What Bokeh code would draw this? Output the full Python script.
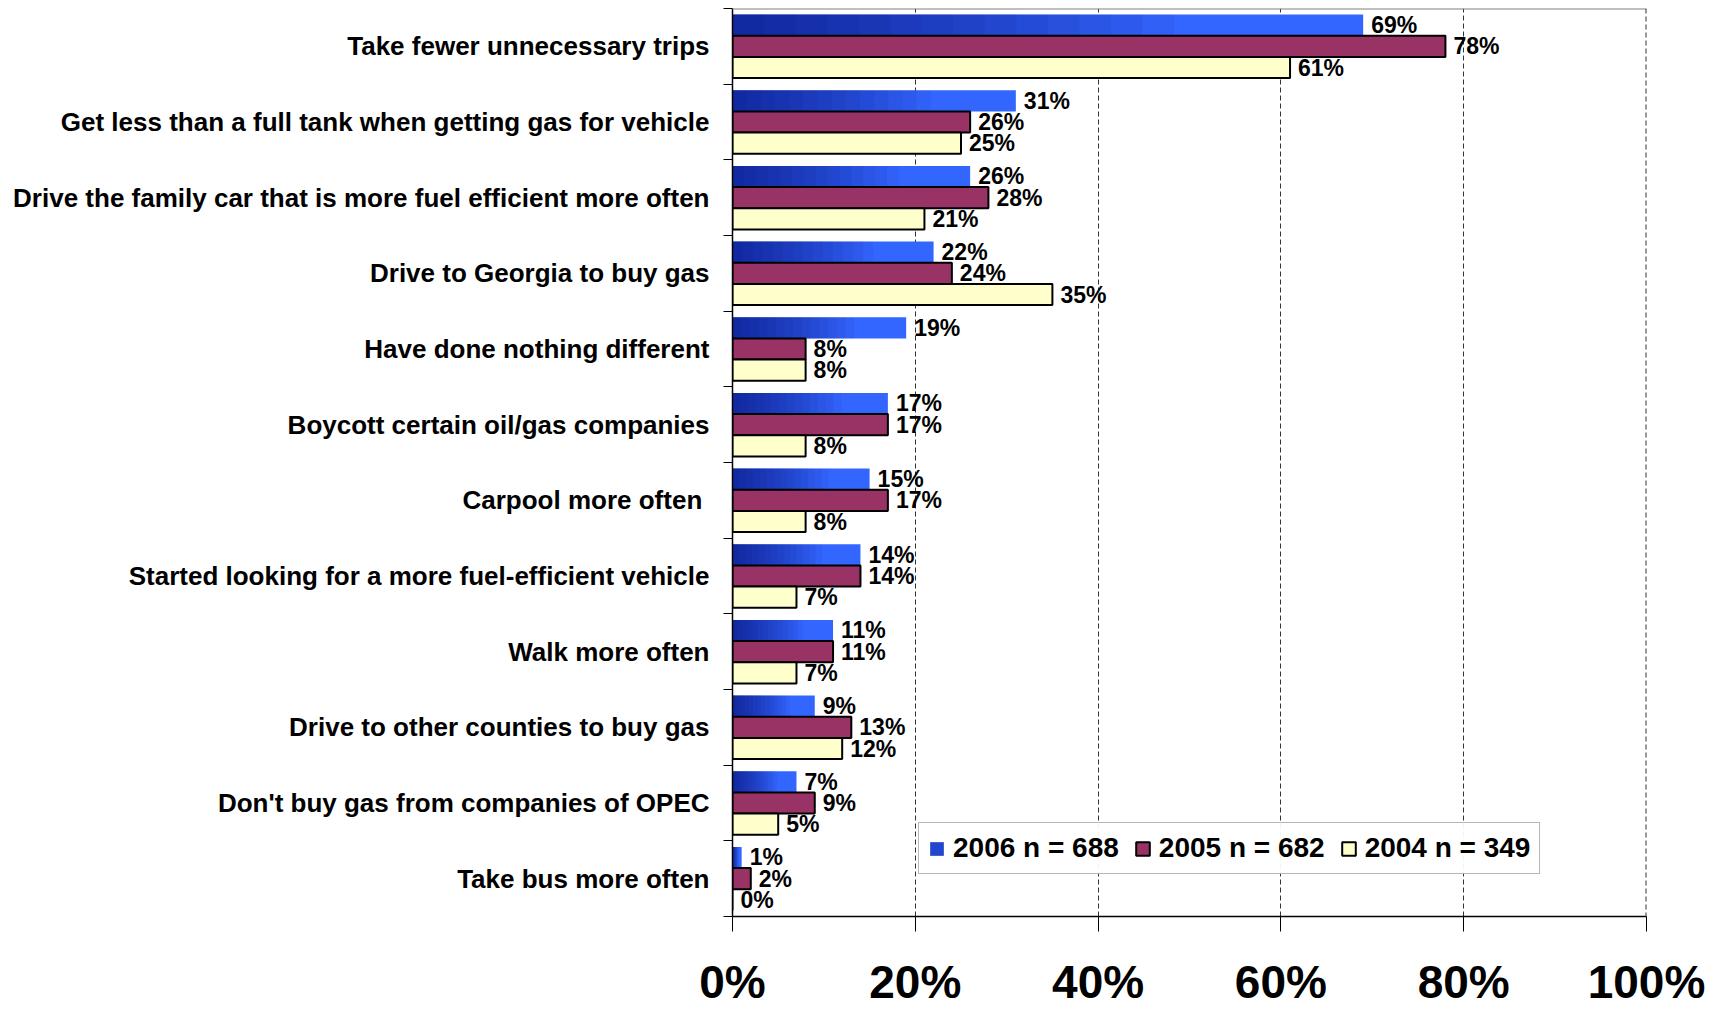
from bokeh.plotting import figure
from bokeh.models import FixedTicker, Span, Legend, LegendItem
from bokeh.core.properties import value
from bokeh.embed import file_html
from bokeh.resources import INLINE

categories = [
    "Take fewer unnecessary trips",
    "Get less than a full tank when getting gas for vehicle",
    "Drive the family car that is more fuel efficient more often",
    "Drive to Georgia to buy gas",
    "Have done nothing different",
    "Boycott certain oil/gas companies",
    "Carpool more often ",
    "Started looking for a more fuel-efficient vehicle",
    "Walk more often",
    "Drive to other counties to buy gas",
    "Don't buy gas from companies of OPEC",
    "Take bus more often",
]
v2006 = [69, 31, 26, 22, 19, 17, 15, 14, 11, 9, 7, 1]
v2005 = [78, 26, 28, 24, 8, 17, 17, 14, 11, 13, 9, 2]
v2004 = [61, 25, 21, 35, 8, 8, 8, 7, 7, 12, 5, 0]
series_labels = ["2006 n = 688", "2005 n = 682", "2004 n = 349"]
x_ticks = [0, 20, 40, 60, 80, 100]
x_tick_labels = ["0%", "20%", "40%", "60%", "80%", "100%"]

FONT = "Liberation Sans"
n = len(categories)
centers = [n - 0.5 - i for i in range(n)]
bar_h = 0.28
offsets = [bar_h, 0.0, -bar_h]

p = figure(width=1719, height=1010, x_range=(0, 100), y_range=(0, n),
           output_backend="svg", toolbar_location=None,
           min_border_left=732, min_border_right=73,
           min_border_top=8, min_border_bottom=92)
p.outline_line_color = None
p.background_fill_color = "white"
p.border_fill_color = "white"
p.ygrid.grid_line_color = None
p.xgrid.ticker = FixedTicker(ticks=x_ticks[1:-1])
p.xgrid.grid_line_color = "#333333"
p.xgrid.grid_line_dash = "5 3"
p.xgrid.grid_line_width = 1

# x axis
xa = p.xaxis[0]
xa.ticker = FixedTicker(ticks=x_ticks)
xa.major_label_overrides = dict(zip(x_ticks, x_tick_labels))
xa.major_tick_out = 15
xa.major_tick_in = 0
xa.minor_tick_line_color = None
xa.major_tick_line_color = "black"
xa.axis_line_color = "black"
xa.axis_line_width = 1.5
xa.major_label_standoff = 24
xa.major_label_text_font = FONT
xa.major_label_text_font_size = "46px"
xa.major_label_text_font_style = "bold"
xa.major_label_text_color = "black"

# y axis
ya = p.yaxis[0]
ya.ticker = FixedTicker(ticks=centers, minor_ticks=list(range(n + 1)))
ya.major_label_overrides = {c: name for c, name in zip(centers, categories)}
ya.major_tick_line_color = None
ya.major_tick_out = 0
ya.major_tick_in = 0
ya.minor_tick_out = 9
ya.minor_tick_in = 0
ya.minor_tick_line_color = "black"
ya.axis_line_color = "black"
ya.axis_line_width = 1.5
ya.major_label_standoff = 14
ya.major_label_text_font = FONT
ya.major_label_text_font_size = "26px"
ya.major_label_text_font_style = "bold"
ya.major_label_text_color = "black"

# frame: grey top edge, dashed right edge
p.add_layout(Span(location=n, dimension="width", line_color="#808080", line_width=2))
p.add_layout(Span(location=x_ticks[-1], dimension="height", line_color="#333333",
                  line_width=2, line_dash="5 3"))

y06 = [c + offsets[0] for c in centers]
y05 = [c + offsets[1] for c in centers]
y04 = [c + offsets[2] for c in centers]

# 2006 with gradient-like shading (dark navy at the left, bright blue at the right)
r06 = p.hbar(y=y06, left=0, right=v2006, height=bar_h, fill_color="#3366FF", line_color=None)
shade = []
for k in range(1, 15):
    f = 0.05 * k
    shade.append(p.hbar(y=y06, left=0, right=[v * f for v in v2006], height=bar_h,
                        fill_color="#000060", fill_alpha=0.055, line_color=None))
r05 = p.hbar(y=y05, left=0, right=v2005, height=bar_h, fill_color="#993366",
             line_color="black", line_width=2)
r04 = p.hbar(y=y04, left=0, right=v2004, height=bar_h, fill_color="#FFFFCC",
             line_color="black", line_width=2)

for ys, vs in ((y06, v2006), (y05, v2005), (y04, v2004)):
    p.text(x=vs, y=ys, text=[f"{v}%" for v in vs], x_offset=8,
           text_baseline="middle", text_align="left",
           text_font=value(FONT), text_font_style="bold",
           text_font_size="23px", text_color="black")

legend = Legend(items=[
    LegendItem(label=series_labels[0], renderers=[r06] + shade[:6]),
    LegendItem(label=series_labels[1], renderers=[r05]),
    LegendItem(label=series_labels[2], renderers=[r04]),
], orientation="horizontal", location=(186, 42))
legend.border_line_color = "#707070"
legend.border_line_width = 1.5
legend.background_fill_color = "white"
legend.label_text_font = FONT
legend.label_text_font_size = "28px"
legend.label_text_font_style = "bold"
legend.label_text_color = "black"
legend.glyph_width = 17
legend.glyph_height = 17
legend.label_standoff = 8
legend.spacing = 15
legend.padding = 9
legend.margin = 0
p.add_layout(legend)

open("out.html", "w").write(file_html(p, INLINE))
